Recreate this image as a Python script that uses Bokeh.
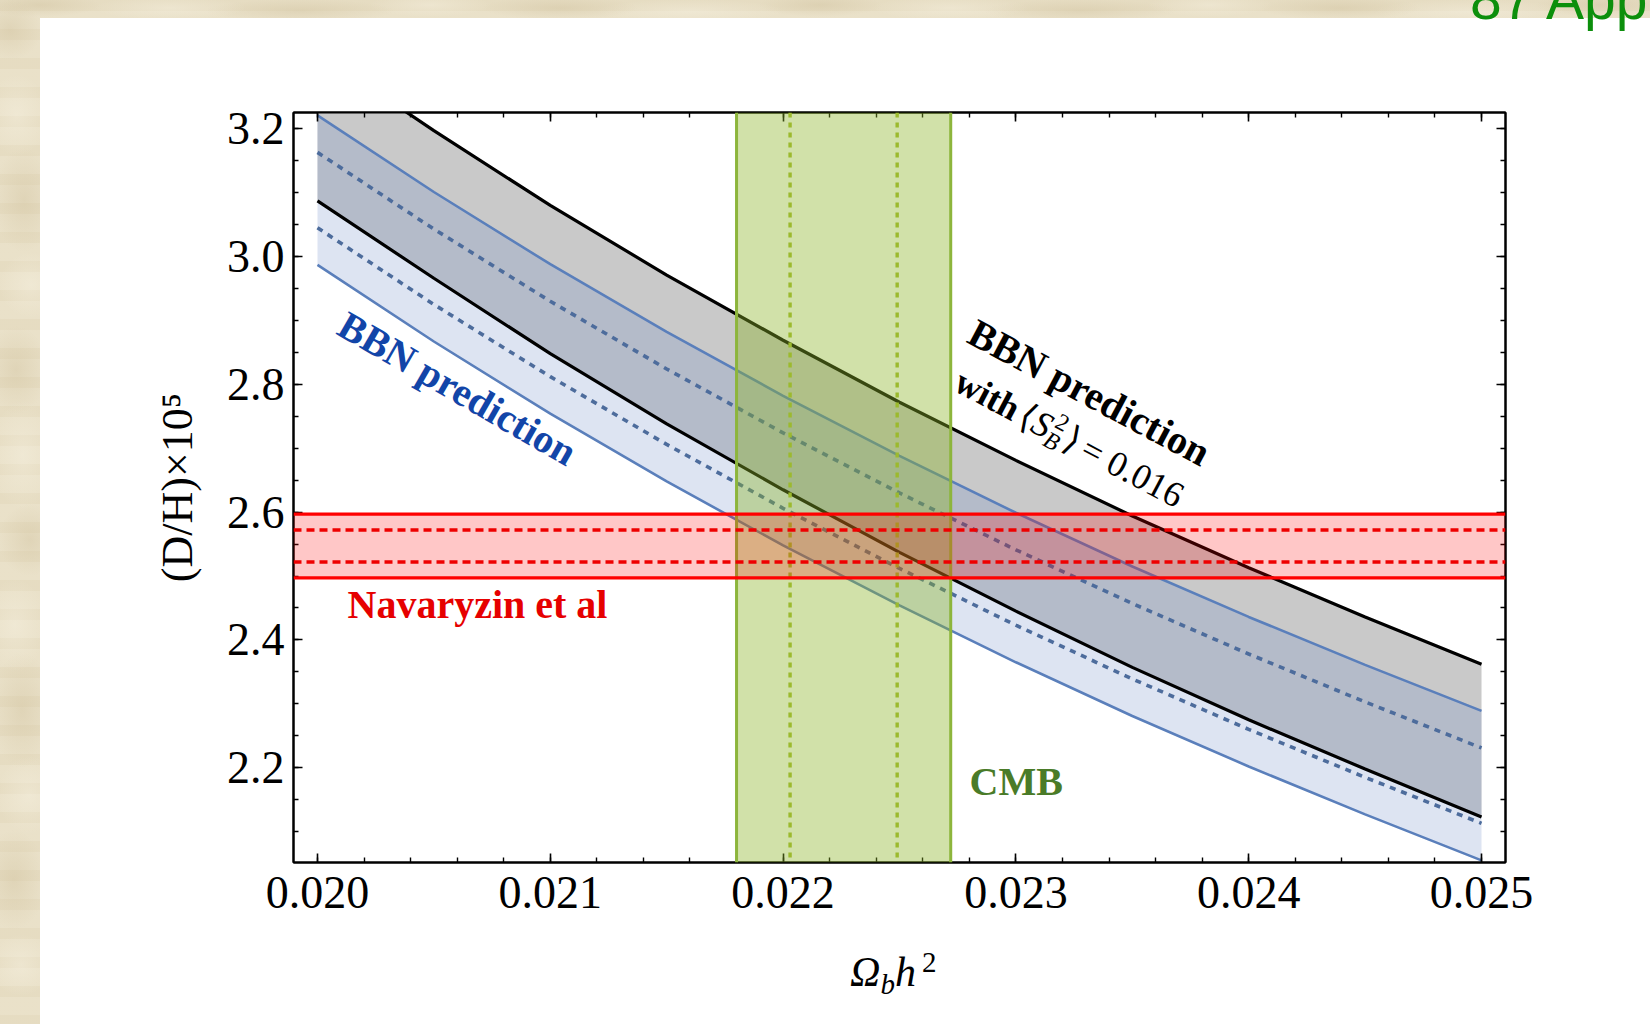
import numpy as np
from bokeh.plotting import figure
from bokeh.layouts import column
from bokeh.models import (Range1d, LinearAxis, FixedTicker, PrintfTickFormatter,
                          CustomJSTickFormatter, BoxAnnotation, Span, Label, Div)
from bokeh.embed import file_html
from bokeh.resources import INLINE

# ---- data -----------------------------------------------------------------
# baryon density grid (Omega_b h^2)
omega_b = [0.0200, 0.0205, 0.0210, 0.0215, 0.0220, 0.0225,
           0.0230, 0.0235, 0.0240, 0.0245, 0.0250]

# standard BBN prediction of D/H x 1e5: 2-sigma (solid) and 1-sigma (dashed) edges
bbn_hi2 = [3.221, 3.101, 2.988, 2.882, 2.782, 2.688, 2.599, 2.515, 2.436, 2.361, 2.289]
bbn_hi1 = [3.163, 3.043, 2.930, 2.824, 2.724, 2.630, 2.541, 2.457, 2.378, 2.303, 2.231]
bbn_lo1 = [3.045, 2.925, 2.812, 2.706, 2.606, 2.512, 2.423, 2.339, 2.260, 2.185, 2.113]
bbn_lo2 = [2.987, 2.867, 2.754, 2.648, 2.548, 2.454, 2.365, 2.281, 2.202, 2.127, 2.055]

# BBN prediction with <S_B^2> = 0.016
sb_hi = [3.320, 3.197, 3.080, 2.971, 2.869, 2.772, 2.681, 2.594, 2.513, 2.436, 2.362]
sb_lo = [3.087, 2.966, 2.848, 2.738, 2.635, 2.537, 2.445, 2.357, 2.275, 2.198, 2.123]

# observed deuterium abundance (Navaryzin et al): mean, 1-sigma, 2-sigma
dh_obs = [2.547, 0.025, 0.050]
# CMB baryon density: mean, 1-sigma, 2-sigma
cmb_obs = [0.02226, 0.00023, 0.00046]

x_ticks = [0.020, 0.021, 0.022, 0.023, 0.024, 0.025]
y_ticks = [2.2, 2.4, 2.6, 2.8, 3.0, 3.2]

# ---- page geometry ----------------------------------------------------------
W, H = 1650, 1024
HEAD_H = 40                 # strip above the chart (running header)
FOOT_Y = 940                # strip below the chart (x-axis title)
FL, FT, FW, FH = 293, 112, 1212, 750          # plot frame on the page
X0, X1 = 0.019897, 0.025103
Y0, Y1 = 2.0517, 3.2254

SERIF = "Liberation Serif"


def at(px, py):
    """page pixel -> data coordinates of the main chart"""
    return (X0 + (px - FL) * (X1 - X0) / FW, Y1 - (py - FT) * (Y1 - Y0) / FH)


# parchment backdrop with a white sheet laid on top
blobs = []
for i, yy in enumerate(range(30, 1024, 85)):
    tone = "rgba(200,183,143,0.30)" if i % 2 == 0 else "rgba(248,243,228,0.40)"
    blobs.append(f"radial-gradient(ellipse 32px {30 + (i * 11) % 30}px at {10 + (i * 7) % 22}px {yy}px, "
                 f"{tone}, rgba(0,0,0,0)) no-repeat")
for i, xx in enumerate(range(40, 1650, 130)):
    tone = "rgba(202,186,148,0.32)" if i % 2 == 0 else "rgba(248,243,228,0.40)"
    blobs.append(f"radial-gradient(ellipse {60 + (i * 17) % 50}px 12px at {xx}px {5 + (i * 3) % 9}px, "
                 f"{tone}, rgba(0,0,0,0)) no-repeat")
page_bg = ", ".join(
    ["linear-gradient(#ffffff, #ffffff) 40px 18px / 1610px 1006px no-repeat"]
    + blobs
    + ["repeating-linear-gradient(180deg, rgba(214,199,163,0.12) 0px, rgba(214,199,163,0.12) 11px, "
       "rgba(245,239,222,0.12) 11px, rgba(245,239,222,0.12) 29px)",
       "#e8dfc6"])

# ---- main chart -------------------------------------------------------------
p = figure(width=W, height=FOOT_Y - HEAD_H, x_range=Range1d(X0, X1), y_range=Range1d(Y0, Y1),
           output_backend="svg", toolbar_location=None,
           x_axis_location=None, y_axis_location=None,
           min_border_left=FL, min_border_top=FT - HEAD_H,
           min_border_right=W - FL - FW, min_border_bottom=FOOT_Y - FT - FH,
           background_fill_color="white", border_fill_alpha=0,
           outline_line_color="black", outline_line_width=2)
p.grid.visible = False

xt = FixedTicker(ticks=x_ticks,
                 minor_ticks=[round(v, 5) for v in np.arange(0.0200, 0.02502, 0.0002)])
yt = FixedTicker(ticks=y_ticks,
                 minor_ticks=[round(v, 3) for v in np.arange(2.10, 3.23, 0.05)])
blank = CustomJSTickFormatter(code="return ''")


def style(ax, standoff):
    ax.axis_line_width = 2
    ax.axis_line_color = "black"
    ax.major_tick_in = 9
    ax.major_tick_out = 0
    ax.minor_tick_in = 5
    ax.minor_tick_out = 0
    ax.major_tick_line_width = 1.6
    ax.minor_tick_line_width = 1.4
    ax.major_label_text_font = SERIF
    ax.major_label_text_font_size = "46px"
    ax.major_label_text_color = "black"
    ax.major_label_standoff = standoff
    ax.axis_label_text_font = SERIF
    ax.axis_label_text_font_size = "44px"
    ax.axis_label_text_font_style = "normal"
    ax.axis_label_text_color = "black"


bottom = LinearAxis(ticker=xt, formatter=PrintfTickFormatter(format="%.3f"))
style(bottom, 14)
left = LinearAxis(ticker=yt, formatter=PrintfTickFormatter(format="%.1f"),
                  axis_label="(D/H)×10⁵", axis_label_standoff=22)
style(left, 9)
top = LinearAxis(ticker=xt, formatter=blank)
style(top, 0)
right = LinearAxis(ticker=yt, formatter=blank)
style(right, 0)
p.add_layout(bottom, "below")
p.add_layout(left, "left")
p.add_layout(top, "above")
p.add_layout(right, "right")

# prediction bands
p.varea(x=omega_b, y1=sb_lo, y2=sb_hi, fill_color="#c9c9c9", fill_alpha=1.0)
p.varea(x=omega_b, y1=bbn_lo2, y2=bbn_hi2, fill_color="#718ec9", fill_alpha=0.24)

for ys in (bbn_hi2, bbn_lo2):
    p.line(omega_b, ys, line_color="#5a7fbb", line_width=2.6)
for ys in (bbn_hi1, bbn_lo1):
    p.line(omega_b, ys, line_color="#4d6c9c", line_width=3.6, line_dash="6 6")
for ys in (sb_hi, sb_lo):
    p.line(omega_b, ys, line_color="black", line_width=3.2)

# CMB band
cm, c1, c2 = cmb_obs
p.add_layout(BoxAnnotation(left=cm - c2, right=cm + c2, fill_color="#8cb428",
                           fill_alpha=0.4, line_color=None))
for loc in (cm - c1, cm + c1):
    p.add_layout(Span(location=loc, dimension="height", line_color="#9cba2e",
                      line_width=3.4, line_dash="5 5"))
for loc in (cm - c2, cm + c2):
    p.add_layout(Span(location=loc, dimension="height", line_color="#8db53c", line_width=3))

# observed D/H band
dm, d1, d2 = dh_obs
p.add_layout(BoxAnnotation(bottom=dm - d2, top=dm + d2, fill_color="#ff0000",
                           fill_alpha=0.22, line_color=None))
for loc in (dm - d1, dm + d1):
    p.add_layout(Span(location=loc, dimension="width", line_color="#ee0000",
                      line_width=3.4, line_dash="8 5"))
for loc in (dm - d2, dm + d2):
    p.add_layout(Span(location=loc, dimension="width", line_color="#ff0000", line_width=3.2))


def chart_label(px, py, text, size, color="black", style="normal", angle=0.0,
                align="left", baseline="alphabetic"):
    """text on the chart, anchored at a page pixel position (baseline start)"""
    if baseline == "alphabetic":
        # lift by the renderer's baseline offset, along the text's own "up" direction
        lift = 0.3 * float(size.rstrip("px"))
        px, py = px - lift * np.sin(angle), py - lift * np.cos(angle)
    x, y = at(px, py)
    p.add_layout(Label(x=x, y=y, text=text, text_font=SERIF, text_font_size=size,
                       text_font_style=style, text_color=color, angle=angle,
                       text_align=align, text_baseline=baseline))


chart_label(347, 616, "Navaryzin et al", "40px", color="#e60000", style="bold")
chart_label(969, 793, "CMB", "40px", color="#4a7b28", style="bold")
chart_label(457, 388, "BBN prediction", "40px", color="#1245a8", style="bold",
            angle=np.deg2rad(-30), align="center", baseline="middle")

th = np.deg2rad(28)
d = np.array([np.cos(th), np.sin(th)])       # along the baseline (screen, y down)
n = np.array([np.sin(th), -np.cos(th)])      # text "up" direction
chart_label(1089, 392, "BBN prediction", "40px", style="bold", angle=-th,
            align="center", baseline="middle")
start = np.array([952.0, 388.0])
pieces = [
    (0, 0, "with", "36px", "bold"),
    (73, 0, "⟨", "36px", "normal"),
    (87, 0, "S", "36px", "italic"),
    (107, 14, "2", "24px", "normal"),
    (105, -7, "B", "24px", "italic"),
    (123, 0, "⟩", "36px", "normal"),
    (143, 0, "= 0.016", "36px", "normal"),
]
for along, up, txt, size, st in pieces:
    pos = start + along * d + up * n
    chart_label(pos[0], pos[1], txt, size, style=st, angle=-th)

# ---- header strip: running page header ------------------------------------
head = Div(width=W, height=HEAD_H, margin=0, styles={"overflow": "hidden"},
           text=('<div style="position:relative; top:-29px; left:1470px; '
                 "font-family:'Liberation Sans'; font-size:57px; line-height:1; "
                 'color:#0c8f0c; white-space:nowrap">87 App</div>'))

# ---- footer strip: x-axis title  Omega_b h^2 --------------------------------
foot = Div(width=W, height=H - FOOT_Y, margin=0, styles={"overflow": "hidden"},
           text=('<div style="position:relative; top:11px; left:850px; '
                 "font-family:'Liberation Serif'; font-size:42px; line-height:1; "
                 'color:#000; white-space:nowrap">'
                 '<i>Ω</i>'
                 '<span style="position:relative; top:8px; font-size:29px; font-style:italic">b</span>'
                 '<i>h</i>'
                 '<span style="position:relative; top:-14px; left:6px; font-size:29px">2</span>'
                 '</div>'))

page = column(head, p, foot, width=W, height=H, spacing=0,
              styles={"background": page_bg})

open("out.html", "w").write(file_html(page, INLINE))
